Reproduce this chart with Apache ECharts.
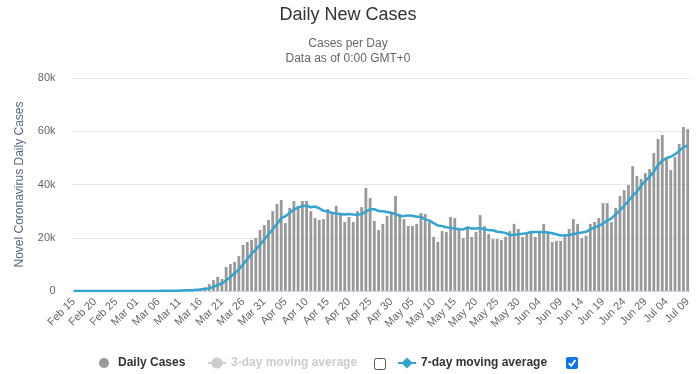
<!DOCTYPE html>
<html>
<head>
<meta charset="utf-8">
<script src="https://cdn.jsdelivr.net/npm/echarts@6/dist/echarts.min.js"></script>
<style>
  html, body { margin: 0; padding: 0; background: #ffffff; }
  #chart { width: 696px; height: 374px; }
</style>
</head>
<body>
<div id="chart"></div>
<script>
// ---- Data ----
var categories = [
  'Feb 15','Feb 16','Feb 17','Feb 18','Feb 19','Feb 20','Feb 21','Feb 22','Feb 23','Feb 24','Feb 25','Feb 26','Feb 27','Feb 28','Feb 29',
  'Mar 01','Mar 02','Mar 03','Mar 04','Mar 05','Mar 06','Mar 07','Mar 08','Mar 09','Mar 10','Mar 11','Mar 12','Mar 13','Mar 14','Mar 15','Mar 16','Mar 17','Mar 18','Mar 19','Mar 20','Mar 21','Mar 22','Mar 23','Mar 24','Mar 25','Mar 26','Mar 27','Mar 28','Mar 29','Mar 30','Mar 31',
  'Apr 01','Apr 02','Apr 03','Apr 04','Apr 05','Apr 06','Apr 07','Apr 08','Apr 09','Apr 10','Apr 11','Apr 12','Apr 13','Apr 14','Apr 15','Apr 16','Apr 17','Apr 18','Apr 19','Apr 20','Apr 21','Apr 22','Apr 23','Apr 24','Apr 25','Apr 26','Apr 27','Apr 28','Apr 29','Apr 30',
  'May 01','May 02','May 03','May 04','May 05','May 06','May 07','May 08','May 09','May 10','May 11','May 12','May 13','May 14','May 15','May 16','May 17','May 18','May 19','May 20','May 21','May 22','May 23','May 24','May 25','May 26','May 27','May 28','May 29','May 30','May 31',
  'Jun 01','Jun 02','Jun 03','Jun 04','Jun 05','Jun 06','Jun 07','Jun 08','Jun 09','Jun 10','Jun 11','Jun 12','Jun 13','Jun 14','Jun 15','Jun 16','Jun 17','Jun 18','Jun 19','Jun 20','Jun 21','Jun 22','Jun 23','Jun 24','Jun 25','Jun 26','Jun 27','Jun 28','Jun 29','Jun 30',
  'Jul 01','Jul 02','Jul 03','Jul 04','Jul 05','Jul 06','Jul 07','Jul 08','Jul 09'
];

var dailyCases = [
  0,0,0,0,0,0,2,0,0,18,0,6,1,1,7,
  8,23,20,31,68,45,140,116,65,300,300,400,500,600,800,1000,1400,2600,4100,5300,4500,9000,10100,10900,13100,17300,18400,19200,19900,22900,24800,
  26700,30000,32700,34200,25500,31200,33800,32000,33800,33800,30000,27400,26700,27000,30800,29700,32000,29000,25900,27800,25900,30000,31500,38700,34900,26300,22900,25200,28200,29300,
  35700,29000,27000,24400,24400,25200,29300,28900,25900,20300,18400,22500,22200,27800,27400,23700,19900,23300,20300,22200,28500,24400,21400,19500,19500,19200,20300,22500,25200,23300,20300,
  21400,22200,20300,22200,25200,22200,18400,18800,18800,20700,23300,27000,25200,19900,20700,25200,25900,27400,33000,33000,25900,31200,35700,37900,39800,46900,43200,42100,44300,45800,
  51800,57100,58600,50000,45400,50300,55200,61600,60800
];

var movingAvg7 = [
  0,0,0,0,0,0,0,0,0,3,3,4,4,4,5,
  6,7,9,13,23,29,48,63,69,109,148,195,260,326,424,557,710,1040,1570,2260,2810,3990,5290,6640,8140,10030,11900,14000,15560,17390,19370,
  21310,23130,25170,27310,28110,29300,30590,31340,31890,32040,31440,31710,31070,30100,29930,29340,29090,28940,28730,28890,28730,28610,28870,29830,30670,30730,30030,29930,29670,29360,
  28930,28090,28190,28400,28290,27860,27860,26890,26440,25490,24630,24360,23930,23710,23500,23190,23130,23830,23510,23510,23610,23190,22860,22800,22260,22100,21830,20970,21090,21360,21470,
  21740,22170,22170,22130,22130,21970,21700,21330,20840,20900,21060,21310,21740,21960,22230,23140,23890,24470,25330,26440,27300,28800,30300,32010,33790,35770,37230,39540,41410,42860,
  44840,47310,48990,49960,50430,51290,52630,54030,54560
];

var movingAvg3 = []; // hidden series (legend item inactive)

var yTicks = [0, 20000, 40000, 60000, 80000];
var yTickLabels = ['0', '20k', '40k', '60k', '80k'];

// ---- Chart ----
var FONT = '"Liberation Sans", Arial, sans-serif';
var chart = echarts.init(document.getElementById('chart'), null, { renderer: 'canvas' });

var option = {
  animation: false,
  textStyle: { fontFamily: FONT },
  title: [
    {
      text: 'Daily New Cases',
      left: 'center',
      top: 1,
      textStyle: { fontSize: 18, fontWeight: 'normal', color: '#333333', fontFamily: FONT }
    },
    {
      text: 'Cases per Day',
      left: 'center',
      top: 33,
      textStyle: { fontSize: 12, fontWeight: 'normal', color: '#666666', fontFamily: FONT }
    },
    {
      text: 'Data as of 0:00 GMT+0',
      left: 'center',
      top: 48,
      textStyle: { fontSize: 12, fontWeight: 'normal', color: '#666666', fontFamily: FONT }
    }
  ],
  legend: [
    {
      data: ['Daily Cases'],
      left: 94, top: 352,
      itemWidth: 18, itemHeight: 10,
      icon: 'circle',
      textStyle: { fontSize: 12, fontWeight: 'bold', color: '#333333', fontFamily: FONT },
      selectedMode: false
    },
    {
      data: ['3-day moving average'],
      left: 202, top: 352,
      itemWidth: 18, itemHeight: 14,
      inactiveColor: '#cccccc',
      selected: { '3-day moving average': false },
      textStyle: { fontSize: 12, fontWeight: 'bold', color: '#333333', fontFamily: FONT }
    },
    {
      data: ['7-day moving average'],
      left: 392, top: 352,
      itemWidth: 18, itemHeight: 14,
      textStyle: { fontSize: 12, fontWeight: 'bold', color: '#333333', fontFamily: FONT }
    }
  ],
  grid: { left: 71.6, right: 6.2, top: 78, bottom: 83, containLabel: false },
  xAxis: {
    type: 'category',
    data: categories,
    boundaryGap: true,
    axisLine: { lineStyle: { color: '#ccd6eb', width: 1 } },
    axisTick: { show: false },
    axisLabel: {
      interval: 4,
      rotate: 45,
      margin: 9,
      color: '#666666',
      fontSize: 11,
      fontFamily: FONT
    },
    splitLine: { show: false }
  },
  yAxis: {
    type: 'value',
    min: yTicks[0],
    max: yTicks[yTicks.length - 1],
    interval: 20000,
    name: 'Novel Coronavirus Daily Cases',
    nameLocation: 'middle',
    nameGap: 46,
    nameTextStyle: { color: '#566683', fontSize: 12, fontFamily: FONT },
    axisLine: { show: false },
    axisTick: { show: false },
    axisLabel: {
      margin: 16,
      color: '#666666',
      fontSize: 11,
      fontFamily: FONT,
      formatter: function (v) {
        var i = yTicks.indexOf(v);
        return i >= 0 ? yTickLabels[i] : '';
      }
    },
    splitLine: { lineStyle: { color: '#e6e6e6', width: 1 } }
  },
  series: [
    {
      name: 'Daily Cases',
      type: 'bar',
      data: dailyCases,
      barWidth: '66%',
      itemStyle: { color: '#999999' },
      z: 2
    },
    {
      name: '3-day moving average',
      type: 'line',
      data: movingAvg3,
      symbol: 'circle',
      symbolSize: 6,
      showSymbol: false,
      itemStyle: { color: '#cccccc' },
      lineStyle: { color: '#cccccc', width: 2 }
    },
    {
      name: '7-day moving average',
      type: 'line',
      data: movingAvg7,
      symbol: 'diamond',
      symbolSize: 7,
      showSymbol: false,
      itemStyle: { color: '#33a3cf' },
      lineStyle: { color: '#33a3cf', width: 2.5 },
      z: 3
    }
  ],
  graphic: [
    {
      type: 'rect',
      shape: { x: 374.5, y: 358.5, width: 11, height: 11, r: 2 },
      style: { fill: '#ffffff', stroke: '#555555', lineWidth: 1 }
    },
    {
      type: 'rect',
      shape: { x: 566, y: 357, width: 12, height: 12, r: 2 },
      style: { fill: '#0a74f0' }
    },
    {
      type: 'polyline',
      shape: { points: [[568.8, 363.2], [571.3, 365.8], [575.4, 360]] },
      style: { stroke: '#ffffff', lineWidth: 2, fill: null }
    }
  ]
};

chart.setOption(option);
</script>
</body>
</html>
